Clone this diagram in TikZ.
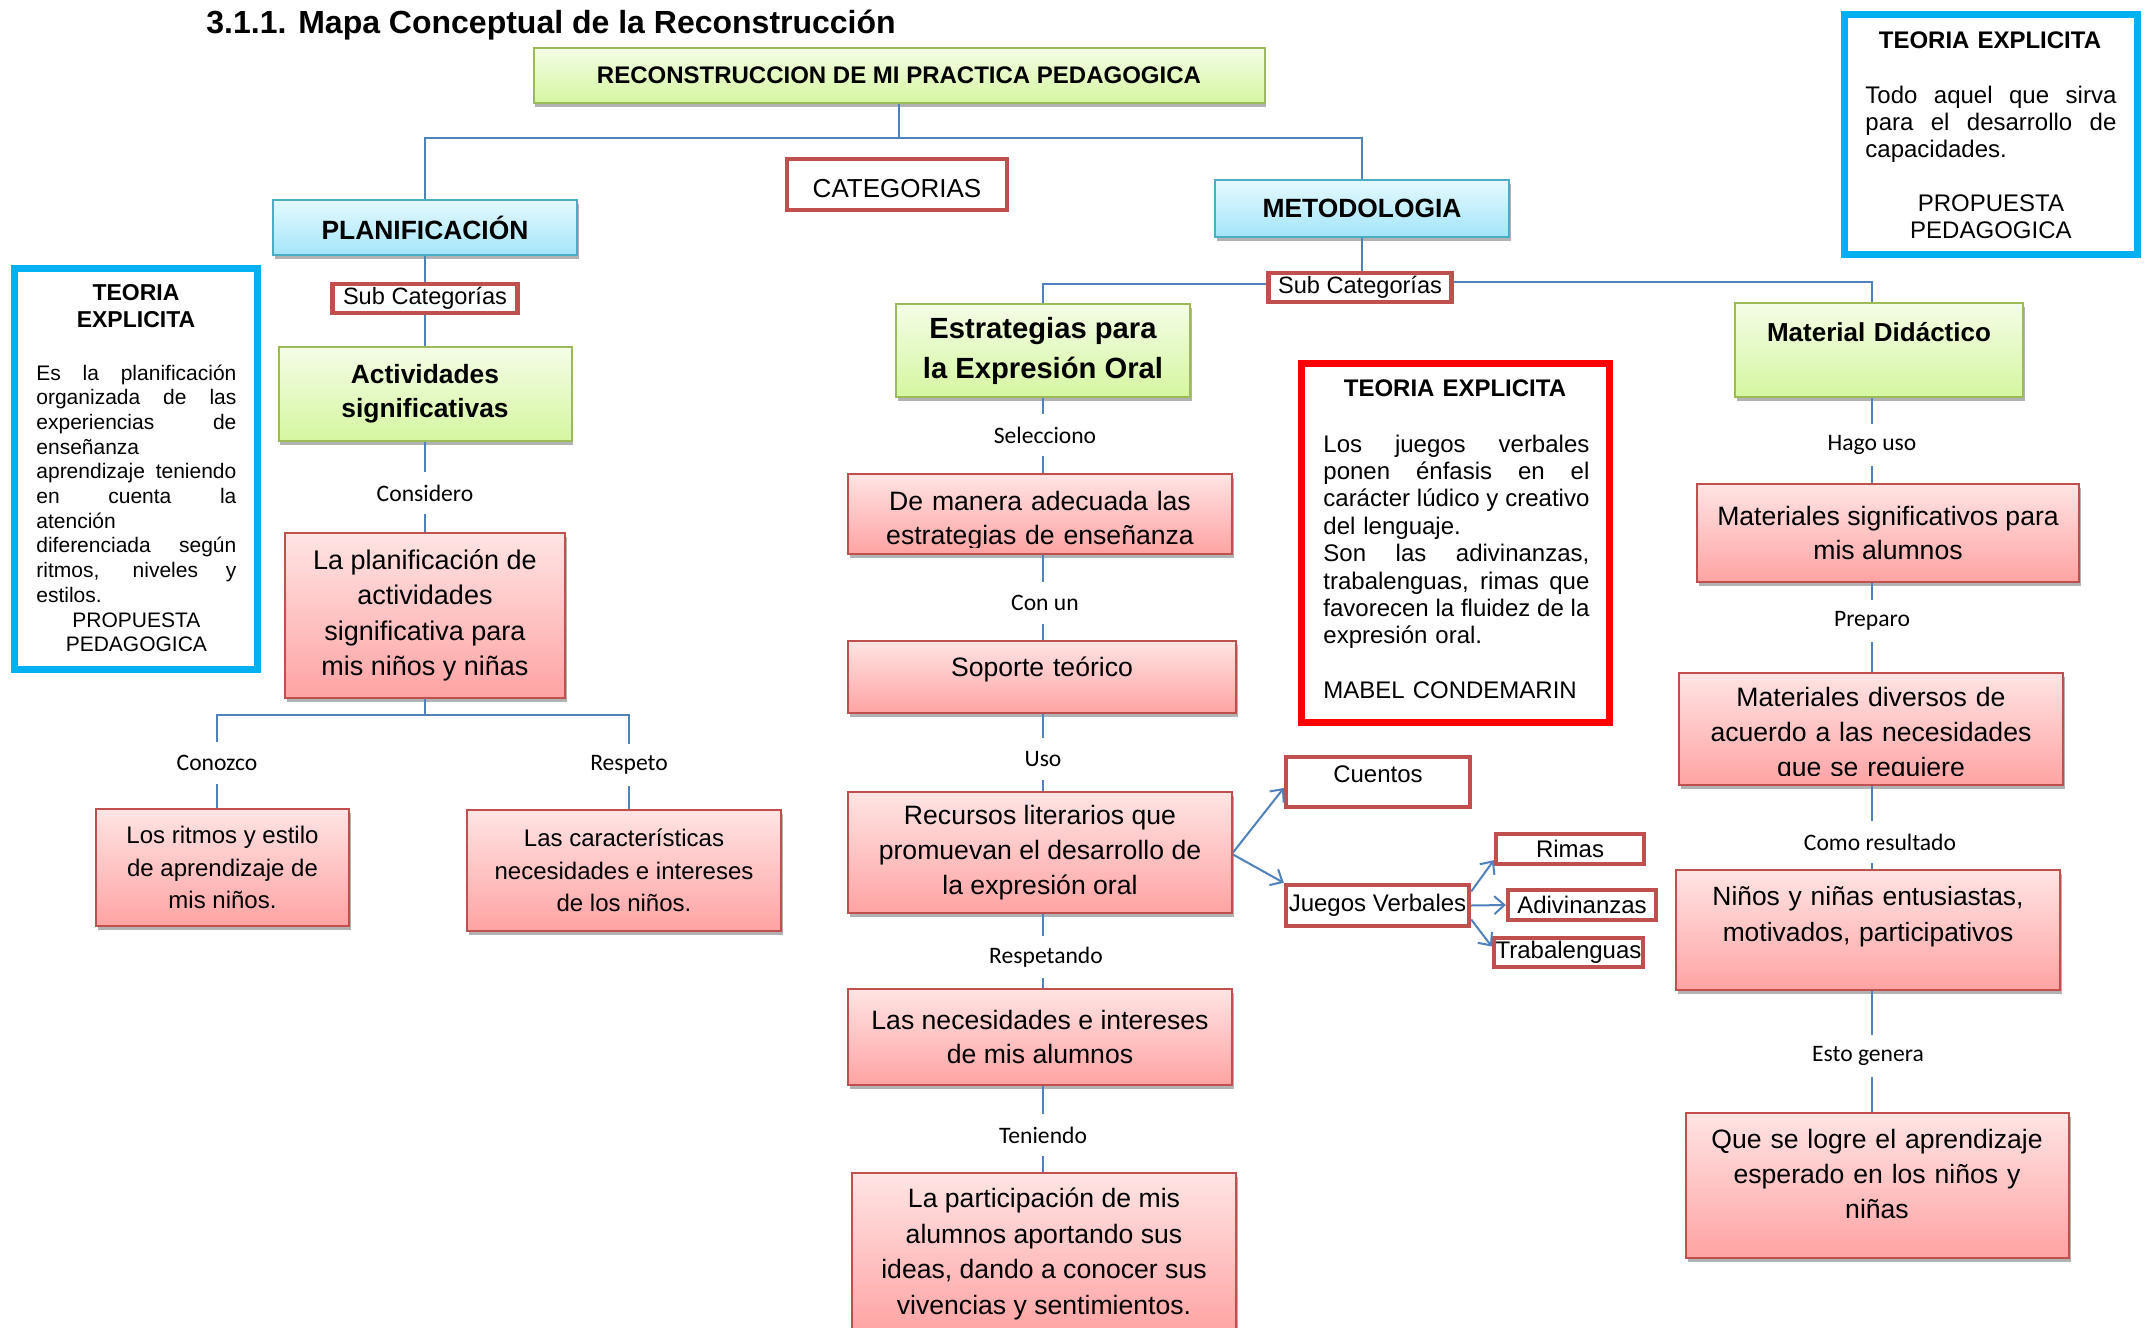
\documentclass[tikz,border=0pt]{standalone}
\usepackage{fontspec}
\setmainfont{Liberation Sans}
\newfontfamily\calib{Carlito}
\usetikzlibrary{shadows,arrows.meta}
\definecolor{lnblue}{HTML}{4F81BD}
\definecolor{rdb}{HTML}{C0504D}
\definecolor{pkT}{HTML}{FFE4E4}
\definecolor{pkB}{HTML}{FFA3A3}
\definecolor{gnT}{HTML}{F4FDE6}
\definecolor{gnB}{HTML}{D5F6A0}
\definecolor{gnL}{HTML}{9BBB59}
\definecolor{blT}{HTML}{E6F9FF}
\definecolor{blB}{HTML}{A3E5FA}
\definecolor{blL}{HTML}{4BACC6}
\definecolor{cyL}{HTML}{00B0F0}
\newcommand\jline[2]{\makebox[#1][s]{\spaceskip=0.278em plus 1fill minus 0.05em\relax #2}}
\tikzset{
  shd/.style={drop shadow={shadow xshift=0.8pt, shadow yshift=-2.2pt, opacity=0.3, fill=black}},
  pinkbox/.style={draw=rdb, line width=1pt, top color=pkT, bottom color=pkB, shd, inner sep=0pt, align=center},
  greenbox/.style={draw=gnL, line width=1pt, top color=gnT, bottom color=gnB, shd, inner sep=0pt, align=center},
  bluebox/.style={draw=blL, line width=1pt, top color=blT, bottom color=blB, shd, inner sep=0pt, align=center},
  redtag/.style={draw=rdb, line width=2.2pt, fill=white, inner sep=0pt, font=\fontsize{12}{14}\selectfont},
  teobox/.style={draw=#1, line width=3.5pt, fill=white, inner sep=0pt},
  lbl/.style={font=\calib\fontsize{11.8}{14}\selectfont, minimum height=21pt, inner sep=0pt},
  conn/.style={draw=lnblue, line width=1pt},
  arr/.style={conn, -{Straight Barb[length=5pt,width=9pt]}},
  txt/.style={inner sep=0pt, text width=260pt, align=center, anchor=base},
}
\begin{document}
\begin{tikzpicture}[x=0.5pt,y=-0.5pt]
\clip (0,0) rectangle (2149,1328);
\fill[white] (0,0) rectangle (2149,1328);

% title
\node[anchor=base west, inner sep=0pt, font=\bfseries\fontsize{16}{19}\selectfont] (title) at (206,33) {3.1.1. Mapa Conceptual de la Reconstrucción};

% top level
\node[greenbox, minimum width=365.5pt, minimum height=27.5pt, font=\bfseries\fontsize{12}{14}\selectfont] (reco) at (899,75.5) {RECONSTRUCCION DE MI PRACTICA PEDAGOGICA};
\node[redtag, minimum width=110pt, minimum height=25.5pt, text height=12.6pt, text depth=0pt, font=\fontsize{13}{15}\selectfont] (cat) at (897,184.5) {CATEGORIAS};
\node[bluebox, minimum width=152pt, minimum height=27.5pt, font=\bfseries\fontsize{13.2}{15}\selectfont] (plan) at (425,227.5) {PLANIFICACIÓN};
\node[bluebox, minimum width=147pt, minimum height=28.5pt, font=\bfseries\fontsize{13.2}{15}\selectfont] (meto) at (1362,208.5) {METODOLOGIA};
\coordinate (j0) at (899,138);
\draw[conn] (reco.south) -- (j0);
\draw[conn] (j0) -| (plan.north);
\draw[conn] (j0) -| (meto.north);

% left teoria
\node[teobox=cyL, minimum width=121.5pt, minimum height=200.5pt] (teoL) at (135.5,468.5) {};
\node[txt, font=\bfseries\fontsize{11.5}{13.5}\selectfont] (teoLt) at (136,300) {TEORIA\\EXPLICITA};
\node[inner sep=0pt, text width=100pt, align=left, anchor=base west, font=\fontsize{10.5}{12.35}\selectfont] (teoLb) at (36,380) {%
\jline{100pt}{Es la planificación}\\
\jline{100pt}{organizada de las}\\
\jline{100pt}{experiencias de}\\
\makebox[100pt][l]{enseñanza}\\
\jline{100pt}{aprendizaje teniendo}\\
\jline{100pt}{en cuenta la}\\
\makebox[100pt][l]{atención}\\
\jline{100pt}{diferenciada según}\\
\jline{100pt}{ritmos, niveles y}\\
\makebox[100pt][l]{estilos.}\\
\makebox[100pt][c]{PROPUESTA}\\
\makebox[100pt][c]{PEDAGOGICA}};

% left branch
\node[redtag, minimum width=92.5pt, minimum height=14.5pt, font=\fontsize{11.8}{14}\selectfont] (subL) at (425,298.5) {Sub Categorías};
\node[greenbox, minimum width=146.5pt, minimum height=47pt, font=\bfseries\fontsize{13.2}{17}\selectfont] (act) at (425,394) {Actividades\\significativas};
\draw[conn] (plan.south) -- (subL.north);
\draw[conn] (subL.south) -- (act.north);
\node[lbl] (cons) at (425,493) {Considero};
\node[pinkbox, minimum width=140pt, minimum height=82.5pt, font=\fontsize{13.5}{17.7}\selectfont] (plan2) at (425,615.5) {La planificación de\\actividades\\significativa para\\mis niños y niñas};
\draw[conn] (act.south) -- (cons) -- (plan2.north);
\coordinate (j1) at (425,715);
\node[lbl] (conoz) at (217,763) {Conozco};
\node[lbl] (resp) at (629,765) {Respeto};
\draw[conn] (plan2.south) -- (j1);
\draw[conn] (j1) -| (conoz);
\draw[conn] (j1) -| (resp);
\node[pinkbox, minimum width=126.5pt, minimum height=58.5pt, font=\fontsize{12}{16.25}\selectfont] (ritmos) at (222.5,867.5) {Los ritmos y estilo\\de aprendizaje de\\mis niños.};
\node[pinkbox, minimum width=157pt, minimum height=60.5pt, font=\fontsize{12}{16.25}\selectfont] (caract) at (624,870.5) {Las características\\necesidades e intereses\\de los niños.};
\draw[conn] (conoz) -- (conoz |- ritmos.north);
\draw[conn] (resp) -- (resp |- caract.north);

% metodologia branch
\node[redtag, minimum width=91.5pt, minimum height=14.5pt, font=\fontsize{11.8}{14}\selectfont] (subR) at (1360,287.5) {Sub Categorías};
\draw[conn] (meto.south) -- (meto.south |- subR.north);
\node[greenbox, minimum width=147pt, minimum height=46.5pt, font=\bfseries\fontsize{14.6}{20}\selectfont] (estr) at (1043,350.5) {Estrategias para\\la Expresión Oral};
\node[greenbox, minimum width=144pt, minimum height=47pt] (matd) at (1879,350) {};
\node[txt, font=\bfseries\fontsize{13}{15}\selectfont] (matdt) at (1879,341) {Material Didáctico};
\coordinate (colR) at (1872,400);
\coordinate (colM) at (1043,400);
\draw[conn] ([yshift=2pt]subR.west) -| (estr.north);
\draw[conn] ([yshift=3pt]subR.east) -| (matd.north -| colR);

% middle column
\node[lbl] (selec) at (1045,435) {Selecciono};
\draw[conn] (estr.south -| colM) -- (selec.north -| colM);
\node[pinkbox, minimum width=192pt, minimum height=40pt] (deman) at (1040,514) {};
\begin{scope}
\clip (deman.north west) rectangle ([yshift=4pt]deman.south east);
\node[txt, font=\fontsize{13.3}{17}\selectfont] (demant) at (1040,510) {De manera adecuada las\\estrategias de enseñanza};
\end{scope}
\draw[conn] (selec.south -| colM) -- (deman.north -| colM);
\node[lbl] (conun) at (1045,603) {Con un};
\draw[conn] (deman.south -| colM) -- (conun.north -| colM);
\node[pinkbox, minimum width=194pt, minimum height=36pt] (sop) at (1042,677) {};
\node[txt, font=\fontsize{13.3}{17}\selectfont] (sopt) at (1042,676) {Soporte teórico};
\draw[conn] (conun.south -| colM) -- (sop.north -| colM);
\node[lbl] (uso) at (1043,759) {Uso};
\draw[conn] (sop.south -| colM) -- (uso.north -| colM);
\node[pinkbox, minimum width=192pt, minimum height=60.5pt, font=\fontsize{13.3}{17.5}\selectfont] (recur) at (1040,852.5) {Recursos literarios que\\promuevan el desarrollo de\\la expresión oral};
\draw[conn] (uso.south -| colM) -- (recur.north -| colM);
\node[lbl] (respe) at (1046,957) {Respetando};
\draw[conn] (recur.south -| colM) -- (respe.north -| colM);
\node[pinkbox, minimum width=192pt, minimum height=48pt, font=\fontsize{13.3}{17}\selectfont] (nec) at (1040,1037) {Las necesidades e intereses\\de mis alumnos};
\draw[conn] (respe.south -| colM) -- (nec.north -| colM);
\node[lbl] (ten) at (1043,1135) {Teniendo};
\draw[conn] (nec.south -| colM) -- (ten.north -| colM);
\node[pinkbox, minimum width=192pt, minimum height=81pt, font=\fontsize{13.3}{17.7}\selectfont] (part) at (1044,1254) {La participación de mis\\alumnos aportando sus\\ideas, dando a conocer sus\\vivencias y sentimientos.};
\draw[conn] (ten.south -| colM) -- (part.north -| colM);

% small boxes
\node[redtag, minimum width=92pt, minimum height=25pt] (cuen) at (1378,782) {};
\node[txt, font=\fontsize{12}{14}\selectfont] (cuent) at (1378,782) {Cuentos};
\node[redtag, minimum width=91.5pt, minimum height=20.5pt] (jueg) at (1377.5,905.5) {Juegos Verbales};
\node[redtag, minimum width=74pt, minimum height=15pt] (rim) at (1570,849) {Rimas};
\node[redtag, minimum width=74pt, minimum height=15pt] (adiv) at (1582,905) {Adivinanzas};
\node[redtag, minimum width=74.5pt, minimum height=14.5pt] (trab) at (1568.5,952.5) {Trabalenguas};
\draw[arr] (recur.east) -- ([yshift=-3pt]cuen.west);
\draw[arr] ([yshift=-1pt]recur.east) -- (jueg.north west);
\draw[arr] ([yshift=7pt]jueg.east) -- ([yshift=3pt]rim.south west);
\draw[arr] (jueg.east) -- (adiv.west);
\draw[arr] ([yshift=-7pt]jueg.east) -- ([yshift=3pt]trab.west);

% middle teoria
\node[teobox=red, minimum width=154pt, minimum height=179.5pt] (teoM) at (1455.5,543) {};
\node[txt, font=\bfseries\fontsize{12}{14}\selectfont] (teoMt) at (1455,396) {TEORIA EXPLICITA};
\node[inner sep=0pt, text width=133pt, align=left, anchor=base west, font=\fontsize{12}{13.7}\selectfont] (teoMb) at (1323,452) {%
\jline{133pt}{Los juegos verbales}\\
\jline{133pt}{ponen énfasis en el}\\
\jline{133pt}{carácter lúdico y creativo}\\
\makebox[133pt][l]{del lenguaje.}\\
\jline{133pt}{Son las adivinanzas,}\\
\jline{133pt}{trabalenguas, rimas que}\\
\jline{133pt}{favorecen la fluidez de la}\\
\makebox[133pt][l]{expresión oral.}\\
\mbox{}\\
\makebox[133pt][l]{MABEL CONDEMARIN}};

% right teoria
\node[teobox=cyL, minimum width=146.5pt, minimum height=120pt] (teoR) at (1991,134.5) {};
\node[txt, font=\bfseries\fontsize{12}{14}\selectfont] (teoRt) at (1990,48) {TEORIA EXPLICITA};
\node[inner sep=0pt, text width=125.5pt, align=left, anchor=base west, font=\fontsize{12}{13.5}\selectfont] (teoRb) at (1865,103) {%
\jline{125.5pt}{Todo aquel que sirva}\\
\jline{125.5pt}{para el desarrollo de}\\
\makebox[125.5pt][l]{capacidades.}\\
\mbox{}\\
\makebox[125.5pt][c]{PROPUESTA}\\
\makebox[125.5pt][c]{PEDAGOGICA}};

% right column
\node[lbl] (hago) at (1872,445) {Hago uso};
\draw[conn] (matd.south -| colR) -- (hago.north -| colR);
\node[pinkbox, minimum width=191pt, minimum height=49pt, font=\fontsize{13.3}{17}\selectfont] (matsig) at (1888,533) {Materiales significativos para\\mis alumnos};
\draw[conn] (hago.south -| colR) -- (matsig.north -| colR);
\node[lbl] (prep) at (1872,621) {Preparo};
\draw[conn] (matsig.south -| colR) -- (prep.north -| colR);
\node[pinkbox, minimum width=192pt, minimum height=56pt] (matdiv) at (1871,729) {};
\begin{scope}
\clip (matdiv.north west) rectangle ([yshift=5.5pt]matdiv.south east);
\node[txt, font=\fontsize{13.3}{17.5}\selectfont] (matdivt) at (1871,706) {Materiales diversos de\\acuerdo a las necesidades\\que se requiere};
\end{scope}
\draw[conn] (prep.south -| colR) -- (matdiv.north -| colR);
\node[lbl] (como) at (1880,842) {Como resultado};
\draw[conn] (matdiv.south -| colR) -- (como.north -| colR);
\node[pinkbox, minimum width=192pt, minimum height=60pt] (ninos) at (1868,930) {};
\node[txt, font=\fontsize{13.2}{18}\selectfont] (ninost) at (1868,905) {Niños y niñas entusiastas,\\motivados, participativos};
\draw[conn] (como.south -| colR) -- (ninos.north -| colR);
\node[lbl] (esto) at (1868,1056) {Esto genera};
\draw[conn] (ninos.south -| colR) -- (esto.north -| colR);
\node[pinkbox, minimum width=191.5pt, minimum height=72.5pt] (que) at (1877.5,1185.5) {};
\node[txt, font=\fontsize{13.3}{17.5}\selectfont] (quet) at (1877,1148) {Que se logre el aprendizaje\\esperado en los niños y\\niñas};
\draw[conn] (esto.south -| colR) -- (que.north -| colR);
\end{tikzpicture}
\end{document}
